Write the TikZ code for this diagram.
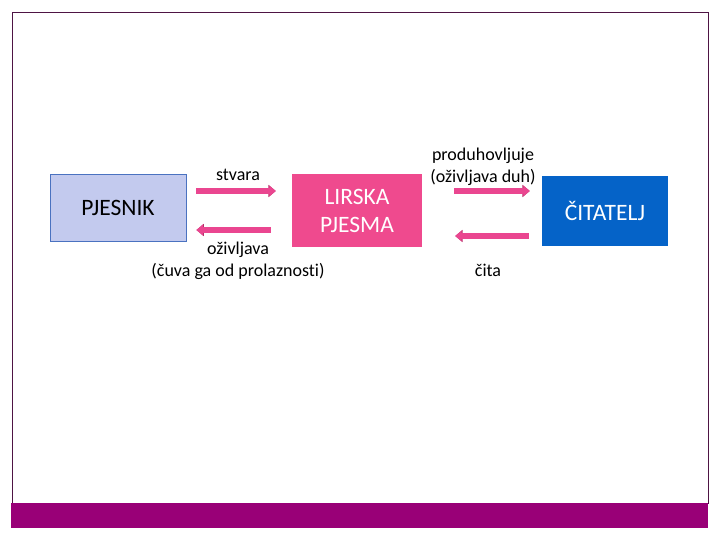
\documentclass[tikz,border=0pt]{standalone}
\usepackage{fontspec}
\setmainfont[RawFeature=-liga]{Carlito}
\usepackage{tikz}
\usetikzlibrary{positioning, calc, arrows.meta}

\definecolor{framecol}{HTML}{4E1444}
\definecolor{bandcol}{HTML}{990077}
\definecolor{poetfill}{HTML}{C3CAEE}
\definecolor{poetline}{HTML}{4A72C0}
\definecolor{poemfill}{HTML}{EF4A8E}
\definecolor{readerfill}{HTML}{0563C8}
\definecolor{arrfill}{HTML}{EA4690}
\definecolor{arrline}{HTML}{B8306A}

\begin{document}
\begin{tikzpicture}[x=1pt, y=-1pt,
    box/.style={minimum width=#1, inner sep=0pt, align=center, font=\fontsize{23.5}{28}\selectfont},
    lbl/.style={align=center, font=\fontsize{18}{22}\selectfont},
    blockarr/.style={draw=arrfill, line width=5.8pt, -{Triangle[width=10.5pt, length=6.5pt]},
        preaction={draw=arrline, line width=6.8pt, -{Triangle[width=12pt, length=7.4pt]}}}]
    \useasboundingbox (0,0) rectangle (720,540);

    % Slide frame and bottom band
    \draw[framecol, line width=0.9pt] (12,12) rectangle (708,503);
    \fill[bandcol] (11,503) rectangle (708,528);

    % Boxes
    \node[box=136pt, minimum height=67pt, fill=poetfill, draw=poetline, line width=0.8pt] (pjesnik) at (118,207.5) {PJESNIK};
    \node[box=130pt, minimum height=73pt, fill=poemfill, text=white] (pjesma) at (357,210.5) {LIRSKA\\PJESMA};
    \node[box=126pt, minimum height=70pt, fill=readerfill, text=white] (citatelj) at (605,211) {ČITATELJ};

    % Arrow ends
    \coordinate (s1) at ($(pjesnik.east)+(10,-16.5)$);
    \coordinate (e1) at ($(pjesma.west)+(-16,-19.5)$);
    \coordinate (s2) at ($(pjesma.west)+(-21,19.5)$);
    \coordinate (e2) at ($(pjesnik.east)+(10,22.5)$);
    \coordinate (s3) at ($(pjesma.east)+(32,-19.5)$);
    \coordinate (e3) at ($(citatelj.west)+(-12,-20)$);
    \coordinate (s4) at ($(citatelj.west)+(-13,25)$);
    \coordinate (e4) at ($(pjesma.east)+(33,25.5)$);

    \draw[blockarr] (s1) -- (e1);
    \draw[blockarr] (s2) -- (e2);
    \draw[blockarr] (s3) -- (e3);
    \draw[blockarr] (s4) -- (e4);

    % Labels
    \node[lbl] (stvara) at (238,175) {stvara};
    \node[lbl] (ozivljava) at (238,261) {oživljava\\(čuva ga od prolaznosti)};
    \node[lbl] (produh) at (483,167) {produhovljuje\\(oživljava duh)};
    \node[lbl] (cita) at (488,270) {čita};
\end{tikzpicture}
\end{document}
